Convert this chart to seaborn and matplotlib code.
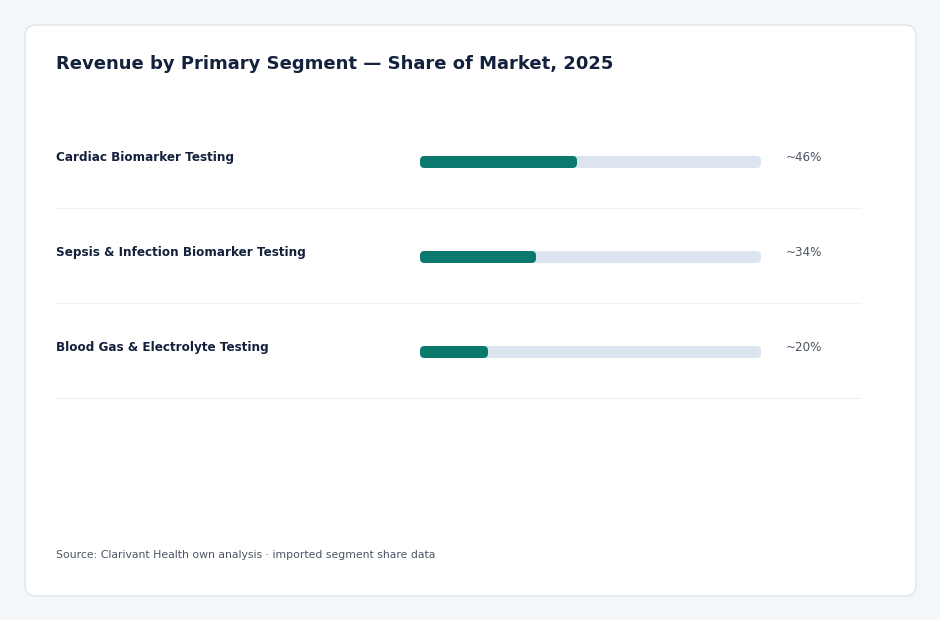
import matplotlib
matplotlib.use("Agg")
import matplotlib.pyplot as plt
import matplotlib.transforms as mtransforms
from matplotlib.patches import FancyBboxPatch
import pandas as pd
import seaborn as sns

# data
segments = ["Cardiac Biomarker Testing",
            "Sepsis & Infection Biomarker Testing",
            "Blood Gas & Electrolyte Testing"]
shares = [46, 34, 20]
share_labels = ["~46%", "~34%", "~20%"]
track_max = [100, 100, 100]

title = "Revenue by Primary Segment \u2014 Share of Market, 2025"
source = "Source: Clarivant Health own analysis \u00b7 imported segment share data"

df = pd.DataFrame({"segment": segments, "share": shares, "track": track_max})

sns.set_theme(style="white")
plt.rcParams["font.family"] = ["DejaVu Sans"]

W, H = 940, 620
fig = plt.figure(figsize=(W / 100, H / 100), dpi=100)
fig.patch.set_facecolor("#f4f7fa")

# white card with rounded corners, in pixel coords
card = FancyBboxPatch((25, H - 596), 891, 571,
                      boxstyle="round,pad=0,rounding_size=11",
                      transform=None, facecolor="white",
                      edgecolor="#dde3ea", linewidth=0.9, zorder=-5)
fig.patches.append(card)

# bar axes: x 0..100 maps to px 420..761, rows at px 162, 257, 352
edge = 8  # px of rounded edge drawn around the bars
ax = fig.add_axes([420 / W, 1 - 399.5 / H, 341 / W, 285 / H])
ax.patch.set_alpha(0)

bar_h = (12 - edge) / 95
lw_pt = edge * 72 / 100
sns.barplot(data=df, x="track", y="segment", orient="h", color="#dce5ef",
            width=bar_h, ax=ax, edgecolor="#dce5ef", linewidth=lw_pt, saturation=1)
sns.barplot(data=df, x="share", y="segment", orient="h", color="#0b7a6e",
            width=bar_h, ax=ax, edgecolor="#0b7a6e", linewidth=lw_pt, saturation=1)

# shrink bars by the half edge so the rounded outline ends at the value
d = (edge / 2) * 100 / 341
for p in ax.patches:
    p.set_x(p.get_x() + d)
    p.set_width(p.get_width() - 2 * d)
    p.set_joinstyle("round")
    p.set_clip_on(False)

ax.set_xlim(0, 100)
ax.set_ylim(2.5, -0.5)
ax.set_xlabel("")
ax.set_ylabel("")
ax.set_xticks([])
ax.set_yticks([])
sns.despine(ax=ax, left=True, bottom=True)

trans = mtransforms.blended_transform_factory(fig.transFigure, ax.transData)
for i, (seg, lab) in enumerate(zip(segments, share_labels)):
    ax.text(56 / W, i - 0.045, seg, transform=trans, ha="left", va="center",
            fontsize=8.65, fontweight="bold", color="#14213d", clip_on=False)
    ax.text(786 / W, i - 0.045, lab, transform=trans, ha="left", va="center",
            fontsize=8.6, color="#4a5363", clip_on=False)
    ax.plot([56 / W, 861 / W], [i + 46 / 95, i + 46 / 95], transform=trans,
            color="#eef1f5", linewidth=0.9, clip_on=False)

fig.text(56 / W, 1 - 64 / H, title, ha="left", va="center",
         fontsize=13, fontweight="bold", color="#14213d")
fig.text(56 / W, 1 - 555 / H, source, ha="left", va="center",
         fontsize=7.85, color="#4a5565")

fig.savefig("out.png", dpi=100, facecolor=fig.get_facecolor())
